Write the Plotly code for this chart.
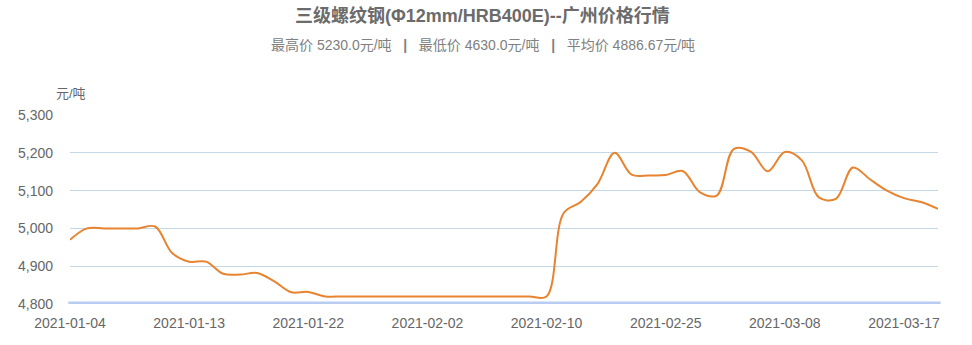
import plotly.graph_objects as go

dates = [
    "2021-01-04", "2021-01-05", "2021-01-06", "2021-01-07", "2021-01-08", "2021-01-11", "2021-01-12",
    "2021-01-13", "2021-01-14", "2021-01-15", "2021-01-18", "2021-01-19", "2021-01-20", "2021-01-21",
    "2021-01-22", "2021-01-25", "2021-01-26", "2021-01-27", "2021-01-28", "2021-01-29", "2021-02-01",
    "2021-02-02", "2021-02-03", "2021-02-04", "2021-02-05", "2021-02-07", "2021-02-08", "2021-02-09",
    "2021-02-10", "2021-02-18", "2021-02-19", "2021-02-20", "2021-02-22", "2021-02-23", "2021-02-24",
    "2021-02-25", "2021-02-26", "2021-03-01", "2021-03-02", "2021-03-03", "2021-03-04", "2021-03-05",
    "2021-03-08", "2021-03-09", "2021-03-10", "2021-03-11", "2021-03-12", "2021-03-15", "2021-03-16",
    "2021-03-17", "2021-03-18", "2021-03-19",
]
prices = [
    4970, 5000, 5000, 5000, 5000, 5005, 4935,
    4912, 4912, 4880, 4878, 4882, 4860, 4831,
    4832, 4820, 4820, 4820, 4820, 4820, 4820,
    4820, 4820, 4820, 4820, 4820, 4820, 4820,
    4820, 5040, 5070, 5118, 5200, 5142, 5140,
    5141, 5152, 5096, 5087, 5210, 5203, 5151,
    5202, 5180, 5082, 5078, 5161, 5130, 5100,
    5080, 5070, 5052,
]
tick_labels = ["2021-01-04", "2021-01-13", "2021-01-22", "2021-02-02",
               "2021-02-10", "2021-02-25", "2021-03-08", "2021-03-17"]
y_ticks = [4800, 4900, 5000, 5100, 5200, 5300]

title_text = "三级螺纹钢(Φ12mm/HRB400E)--广州价格行情"
sep = "   <b>|</b>   "
subtitle_text = "最高价 5230.0元/吨" + sep + "最低价 4630.0元/吨" + sep + "平均价 4886.67元/吨"
unit_text = "元/吨"

FONT = "Liberation Sans, Noto Sans CJK SC, sans-serif"

fig = go.Figure()
fig.add_trace(go.Scatter(
    x=dates, y=prices, mode="lines",
    line=dict(color="#e8832f", width=2, shape="spline", smoothing=1.0),
    hoverinfo="x+y", showlegend=False,
))

fig.add_shape(type="line", xref="paper", yref="y", x0=-0.002, x1=1.003, y0=4800, y1=4800,
              line=dict(color="#b9cdf2", width=5), layer="above")

fig.update_layout(
    width=972, height=345,
    margin=dict(l=70, r=34, t=115, b=41),
    paper_bgcolor="white", plot_bgcolor="white",
    font=dict(family=FONT, color="#666666", size=13),
    showlegend=False,
    annotations=[
        dict(text="<b>" + title_text + "</b>", xref="paper", yref="paper", x=0.475, y=1,
             xanchor="center", yanchor="middle", yshift=115 - 15, showarrow=False,
             font=dict(size=18, color="#6b6b6b", family=FONT)),
        dict(text=subtitle_text, xref="paper", yref="paper", x=0.476, y=1,
             xanchor="center", yanchor="middle", yshift=115 - 45, showarrow=False,
             font=dict(size=14, color="#808080", family=FONT)),
        dict(text=unit_text, xref="paper", yref="paper", x=0, y=1,
             xanchor="center", yanchor="middle", xshift=1, yshift=115 - 93, showarrow=False,
             font=dict(size=13, color="#666666", family=FONT)),
    ],
)

fig.update_xaxes(
    type="category", range=[0, len(dates) - 1],
    tickmode="array", tickvals=tick_labels, ticktext=tick_labels,
    showgrid=False, showline=False, zeroline=False, ticks="",
    ticklabelstandoff=9,
    tickfont=dict(size=14, color="#666666", family=FONT),
)
fig.update_yaxes(
    range=[4800, 5300], tickmode="array", tickvals=y_ticks, tickformat=",d",
    showgrid=True, gridcolor="#c3d9e8", gridwidth=1,
    zeroline=False, showline=False, ticks="",
    ticklabelstandoff=16,
    tickfont=dict(size=14, color="#666666", family=FONT),
)

fig.write_html("out.html")
